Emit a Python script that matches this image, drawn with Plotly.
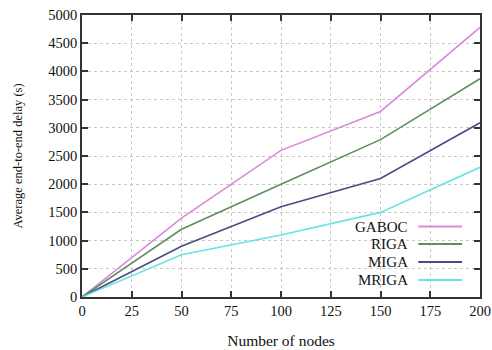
import plotly.graph_objects as go

nodes = [0, 50, 100, 150, 200]
gaboc = [0, 1400, 2600, 3290, 4780]
riga = [0, 1200, 2000, 2790, 3870]
miga = [0, 900, 1600, 2100, 3090]
mriga = [0, 750, 1100, 1500, 2300]

names = ["GABOC", "RIGA", "MIGA", "MRIGA"]
series = [gaboc, riga, miga, mriga]
colors = ["#d98ad9", "#5e8f5e", "#4b4b85", "#66e3e3"]

fig = go.Figure()
for n, s, c in zip(names, series, colors):
    fig.add_trace(go.Scatter(x=nodes, y=s, mode="lines", name=n,
                             line=dict(color=c, width=1.6), showlegend=False))

fam = "Liberation Serif, DejaVu Serif, serif"
font = dict(family=fam, size=14.5, color="#111")
axis_common = dict(showline=True, linecolor="#333", linewidth=1.5, mirror="allticks",
                   ticks="inside", ticklen=6, tickcolor="#333", tickwidth=1.5,
                   showgrid=True, gridcolor="#c8c8c8", griddash="dot", gridwidth=1,
                   zeroline=False, tickfont=font, automargin=False)
fig.update_xaxes(range=[0, 200], tickvals=list(range(0, 201, 25)),
                 title=dict(text="Number of nodes", font=dict(family=fam, size=15.5, color="#111"), standoff=17),
                 **axis_common)
fig.update_yaxes(range=[0, 5000], tickvals=list(range(0, 5001, 500)),
                 title=dict(text="Average end-to-end delay (s)", font=dict(family=fam, size=12.5, color="#111"), standoff=23),
                 **axis_common)

# manual legend (text right-aligned, sample line on right)
ys = [0.25, 0.188, 0.124, 0.06]
for n, c, yy in zip(names, colors, ys):
    fig.add_annotation(x=0.825, y=yy, xref="paper", yref="paper", text=n, showarrow=False,
                       xanchor="right", yanchor="middle", font=dict(family=fam, size=15, color="#111"))
    fig.add_shape(type="line", xref="paper", yref="paper", x0=0.845, x1=0.955, y0=yy, y1=yy,
                  line=dict(color=c, width=2))

fig.update_layout(width=492, height=350, margin=dict(l=82, r=12, t=15, b=53),
                  paper_bgcolor="white", plot_bgcolor="white", font=font)
fig.write_html("out.html", config={"displayModeBar": False},
               post_script="document.body.style.margin='0';")
